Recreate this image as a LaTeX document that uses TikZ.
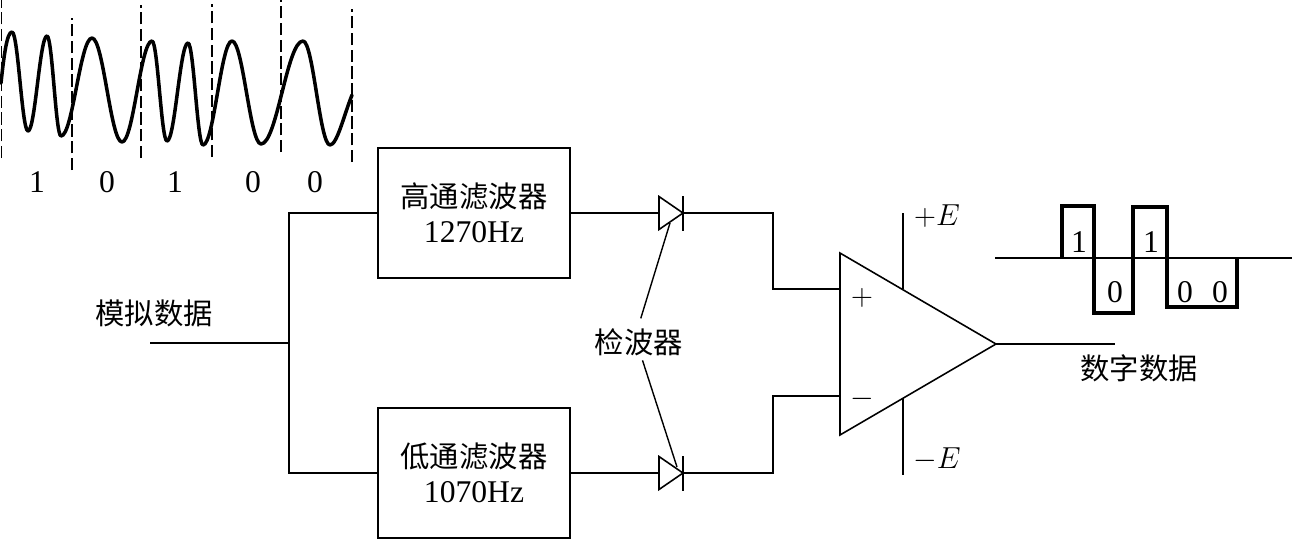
\documentclass[tikz,border=0pt]{standalone}
\usepackage{fontspec}
\setmainfont{Liberation Serif}
\newfontfamily\cjk{Noto Sans CJK SC}
\usetikzlibrary{shapes.geometric, calc}
\tikzset{
    wire/.style={line width=1.1pt},
    thinwire/.style={line width=0.8pt},
    analog/.style={line width=2pt, line cap=round},
    digital/.style={line width=2pt, line join=miter},
    bitdash/.style={line width=0.8pt, dash pattern=on 7pt off 2.5pt},
    filterbox/.style={rectangle, draw, line width=0.8pt, minimum width=3.84cm, minimum height=2.6cm,
                      align=center, inner sep=0pt, outer sep=0pt, font=\fontsize{18}{20}\selectfont},
    cjklbl/.style={font=\fontsize{16.7}{20}\selectfont\cjk, inner xsep=0pt, inner ysep=0.2cm, outer sep=0pt},
    bitlbl/.style={font=\fontsize{18}{20}\selectfont, inner sep=0pt},
    signlbl/.style={font=\fontsize{18}{20}\selectfont, inner sep=0pt},
    diode/.style={isosceles triangle, isosceles triangle stretches, draw, fill=white, line width=0.9pt,
                  minimum height=0.48cm, minimum width=0.66cm, inner sep=0pt, outer sep=0pt,
                  anchor=lower side},
    amplifier/.style={isosceles triangle, isosceles triangle stretches, draw, line width=0.9pt,
                  minimum height=3.12cm, minimum width=3.64cm, inner sep=0pt, outer sep=0pt,
                  anchor=lower side},
}
\begin{document}
\begin{tikzpicture}[x=0.02cm, y=-0.02cm]
    \useasboundingbox (0,0) rectangle (1292,539);

    % ── Filters, detectors, amplifier ──────────────────────────────
    \node[filterbox] (hp) at (474, 213) {{\fontsize{16.7}{20}\selectfont\cjk 高通滤波器}\\1270Hz};
    \node[filterbox] (lp) at (474, 473) {{\fontsize{16.7}{20}\selectfont\cjk 低通滤波器}\\1070Hz};
    \node[diode] (d1) at (659, 213) {};
    \node[diode] (d2) at (659, 473) {};
    \node[amplifier] (amp) at (840, 344) {};

    % ── Labels ─────────────────────────────────────────────────────
    \node[cjklbl] (ain) at (154, 313) {模拟数据};
    \node[cjklbl] (det) at (639, 342) {检波器};
    \node[cjklbl] (dout) at (1139, 368) {数字数据};
    \node[signlbl] (vpos) at (937, 216) {$+E$};
    \node[signlbl] (vneg) at (937, 459) {$-E$};
    \node[signlbl] (ip) at (862, 298) {$+$};
    \node[signlbl] (im) at (862, 399) {$-$};

    % ── Junction points ────────────────────────────────────────────
    \coordinate (in) at (150, 343);
    \coordinate (split) at (289, 343);
    \coordinate (turn1) at (773, 289);
    \coordinate (turn2) at (773, 396);
    \coordinate (plus) at (840, 289);
    \coordinate (minus) at (840, 396);
    \coordinate (out) at (1115, 344);
    \coordinate (rail1a) at (903, 213);
    \coordinate (rail1b) at (903, 289);
    \coordinate (rail2a) at (903, 398);
    \coordinate (rail2b) at (903, 475);
    \coordinate (tip1) at (670, 223);
    \coordinate (tip2) at (677, 467);

    % ── Wires ──────────────────────────────────────────────────────
    \draw[wire] (in) -- (split);
    \draw[wire] (hp.west) -| (split) |- (lp.west);
    \draw[wire] (hp.east) -- (d1.lower side);
    \draw[wire] (lp.east) -- (d2.lower side);
    \draw[wire] (d1.apex) -| (turn1) -- (plus);
    \draw[wire] (d2.apex) -| (turn2) -- (minus);
    \draw[wire] (amp.apex) -- (out);
    \draw[thinwire] (rail1a) -- (rail1b);
    \draw[thinwire] (rail2a) -- (rail2b);

    % diode bars
    \draw[wire] ([yshift=-0.35cm]d1.apex) -- ([yshift=0.35cm]d1.apex);
    \draw[wire] ([yshift=-0.35cm]d2.apex) -- ([yshift=0.35cm]d2.apex);

    % leaders
    \draw[thinwire] ([xshift=1pt]det.north) -- (tip1);
    \draw[thinwire] ([xshift=2pt,yshift=3pt]det.south) -- (tip2);

    % ── Analog waveform ────────────────────────────────────────────
    \foreach \xa/\ya/\yb in {1.5/158/0, 72/170/18, 141/158/5, 212/157/4, 281/152/0, 352/162/9}
        \draw[bitdash] (\xa,\ya) -- (\xa,\yb);
    \foreach \xa/\ya/\xb/\yb in {
        12/32/28/131, 28/131/47/36, 47/36/61/136, 61/136/92/38, 92/38/122/142,
        122/142/152/41, 152/41/167/141, 167/141/188/43, 188/43/203/145, 203/145/232/41,
        232/41/261/144, 261/144/303/41, 303/41/330/145}{
        \pgfmathsetmacro\cx{0.38*(\xb-\xa)}
        \draw[analog] (\xa,\ya) .. controls +(\cx,0) and +(-\cx,0) .. (\xb,\yb);
    }
    \draw[analog] (1,83) .. controls (4,55) and (7,32) .. (12,32);
    \draw[analog] (330,145) .. controls (337,145) and (344,115) .. (352,95);
    \foreach \xa/\bit/\nm in {37/1/ba, 107/0/bb, 175/1/bc, 253/0/bd, 315/0/be}
        \node[bitlbl] (\nm) at (\xa, 182) {\bit};

    % ── Digital waveform ───────────────────────────────────────────
    \coordinate (axis1) at (995, 258);
    \coordinate (axis2) at (1292, 258);
    \draw[thinwire] (axis1) -- (axis2);
    \draw[digital] (1062,258) |- (1094,206) |- (1133,313) |- (1167,207) |- (1237,307) -- (1237,258);
    \foreach \xa/\ya/\bit/\nm in {1079/242/1/ca, 1115/292/0/cb, 1151/242/1/cc, 1185/292/0/cd, 1220/292/0/ce}
        \node[bitlbl] (\nm) at (\xa, \ya) {\bit};

\end{tikzpicture}
\end{document}
